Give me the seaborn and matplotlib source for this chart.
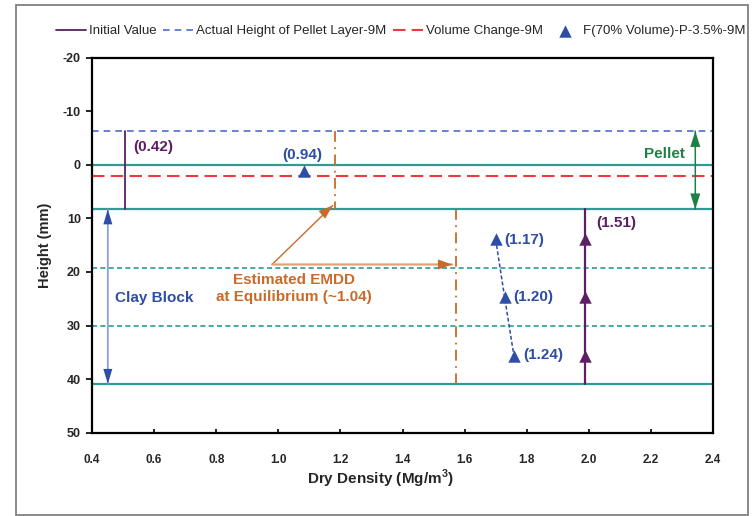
import matplotlib
matplotlib.use("Agg")
import matplotlib.pyplot as plt
import seaborn as sns
from matplotlib.patches import Rectangle

# ---------------- data ----------------
x_ticks = [0.4, 0.6, 0.8, 1.0, 1.2, 1.4, 1.6, 1.8, 2.0, 2.2, 2.4]
y_ticks = [-20, -10, 0, 10, 20, 30, 40, 50]

# horizontal reference levels (mm)
pellet_actual_top = -6.3      # Actual Height of Pellet Layer-9M
pellet_initial_top = 0.0
volume_change_level = 2.0     # Volume Change-9M
block_top = 8.3
block_level_1 = 19.2
block_level_2 = 30.0
block_bottom = 40.9

# initial values
initial_pellet_x = [0.505, 0.505]
initial_pellet_y = [-6.3, 8.3]
initial_block_x = [1.987, 1.987]
initial_block_y = [8.3, 40.9]
initial_block_pts_x = [1.987, 1.987, 1.987]
initial_block_pts_y = [13.9, 24.75, 35.7]

# F(70% Volume)-P-3.5%-9M
f70_x = [1.084, 1.700, 1.729, 1.759]
f70_y = [1.1, 13.9, 24.75, 35.7]
f70_block_x = [1.700, 1.729, 1.759]
f70_block_y = [13.9, 24.75, 35.7]

# estimated EMDD lines
emdd_pellet_x = [1.184, 1.184]
emdd_pellet_y = [-6.3, 8.3]
emdd_block_x = [1.573, 1.573]
emdd_block_y = [8.3, 40.9]

# value labels
label_texts = ["(0.42)", "(0.94)", "(1.17)", "(1.20)", "(1.24)", "(1.51)"]
label_x = [0.533, 1.076, 1.729, 1.756, 1.789, 2.023]
label_y = [-3.4, -1.9, 14.0, 24.6, 35.5, 10.8]

# ---------------- style ----------------
sns.set_theme(style="ticks")
plt.rcParams["font.family"] = ["Liberation Sans", "DejaVu Sans"]
plt.rcParams["axes.unicode_minus"] = False

PURPLE = "#5C1F66"
BLUE = "#2E4DA7"
BLUE_LIGHT = "#8CA0D8"
BLUE_DASH = "#4A6FC8"
TEAL = "#2A9D94"
RED = "#EE3A3A"
ORANGE = "#C96A2A"
ORANGE_LIGHT = "#E2A274"
GREEN = "#1E8045"

fig = plt.figure(figsize=(7.53, 5.16), dpi=100)
ax = fig.add_axes([92 / 753, 1 - 432.7 / 516, (713 - 92) / 753, (432.7 - 57.7) / 516])

# outer frame
fig.patches.append(Rectangle((16 / 753, 1.5 / 516), (748 - 16) / 753, (514 - 4) / 516,
                             transform=fig.transFigure, fill=False,
                             edgecolor="#808080", lw=1.3, zorder=0))

# horizontal levels
for lvl in [pellet_initial_top, block_top, block_bottom]:
    ax.axhline(lvl, color=TEAL, lw=1.6, zorder=2)
for lvl in [block_level_1, block_level_2]:
    ax.axhline(lvl, color=TEAL, lw=1.2, linestyle=(0, (3, 2)), zorder=2)
ax.axhline(pellet_actual_top, color=BLUE_DASH, lw=1.2, linestyle=(0, (4, 3)), zorder=2,
           label="Actual Height of Pellet Layer-9M")
ax.axhline(volume_change_level, color=RED, lw=1.5, linestyle=(0, (6, 3)), zorder=2,
           label="Volume Change-9M")

# initial value vertical lines
sns.lineplot(x=initial_pellet_x, y=initial_pellet_y, ax=ax, color=PURPLE, lw=1.3,
             sort=False, estimator=None, label="Initial Value", zorder=3)
sns.lineplot(x=initial_block_x, y=initial_block_y, ax=ax, color=PURPLE, lw=1.6,
             sort=False, estimator=None, zorder=3)
sns.scatterplot(x=initial_block_pts_x, y=initial_block_pts_y, ax=ax, color=PURPLE,
                marker="^", s=80, linewidth=0, zorder=4)

# EMDD dash-dot lines
for xs, ys in [(emdd_pellet_x, emdd_pellet_y), (emdd_block_x, emdd_block_y)]:
    sns.lineplot(x=xs, y=ys, ax=ax, color=ORANGE, lw=1.3, sort=False, estimator=None,
                 linestyle=(0, (6, 3, 1, 3)), zorder=3)

# F70 series
sns.lineplot(x=f70_block_x, y=f70_block_y, ax=ax, color=BLUE, lw=1.1, sort=False,
             estimator=None, linestyle=(0, (2.5, 1.5)), zorder=3)
sns.scatterplot(x=f70_x, y=f70_y, ax=ax, color=BLUE, marker="^", s=80, linewidth=0,
                zorder=4, label="F(70% Volume)-P-3.5%-9M")

# value labels
label_colors = [PURPLE, BLUE, BLUE, BLUE, BLUE, PURPLE]
label_ha = ["left", "center", "left", "left", "left", "left"]
for t, x, y, c, ha in zip(label_texts, label_x, label_y, label_colors, label_ha):
    ax.text(x, y, t, color=c, fontsize=11, fontweight="bold", ha=ha, va="center", zorder=5)


def arrow(p_from, p_to, line_color, head_color, lw, heads, hl=0.9, hw=0.28):
    """Draw a shaft in line_color and filled heads in head_color."""
    ax.annotate("", xy=p_to, xytext=p_from,
                arrowprops=dict(arrowstyle="-", color=line_color, lw=lw,
                                shrinkA=0, shrinkB=0), zorder=3)
    for tip, base in heads:
        ax.annotate("", xy=tip, xytext=base,
                    arrowprops=dict(arrowstyle=f"-|>,head_length={hl},head_width={hw}",
                                    color=head_color, lw=0.01, shrinkA=0, shrinkB=0),
                    zorder=3)


# Pellet arrow
ax.text(2.245, -2.0, "Pellet", color=GREEN, fontsize=11, fontweight="bold",
        ha="center", va="center")
arrow((2.343, pellet_actual_top), (2.343, block_top), GREEN, GREEN, 1.1,
      [((2.343, pellet_actual_top), (2.343, pellet_actual_top + 4)),
       ((2.343, block_top), (2.343, block_top - 4))], hl=0.95, hw=0.3)

# Clay block arrow
ax.text(0.6, 24.9, "Clay Block", color=BLUE, fontsize=11, fontweight="bold",
        ha="center", va="center")
arrow((0.451, block_top), (0.451, block_bottom), BLUE_LIGHT, BLUE, 1.3,
      [((0.451, block_top), (0.451, block_top + 4)),
       ((0.451, block_bottom), (0.451, block_bottom - 4))], hl=0.9, hw=0.27)

# EMDD annotation
ax.text(1.05, 23.1, "Estimated EMDD\nat Equilibrium (~1.04)", color=ORANGE,
        fontsize=11, fontweight="bold", ha="center", va="center", linespacing=1.3)
arrow((0.98, 18.6), (1.175, 7.6), ORANGE, ORANGE, 1.0,
      [((1.175, 7.6), (1.175 - 0.06, 7.6 + 3.0))], hl=0.85, hw=0.3)
arrow((0.98, 18.6), (1.56, 18.6), ORANGE_LIGHT, ORANGE, 1.6,
      [((1.56, 18.6), (1.50, 18.6))], hl=0.85, hw=0.3)

# axes
ax.set_xlim(x_ticks[0], x_ticks[-1])
ax.set_ylim(y_ticks[-1], y_ticks[0])
ax.set_xticks(x_ticks)
ax.set_xticklabels([f"{v:.1f}" for v in x_ticks])
ax.set_yticks(y_ticks)
ax.set_yticklabels([str(v) for v in y_ticks])
ax.tick_params(axis="x", direction="in", length=3, width=1.2, pad=15, labelsize=8.5,
               color="black")
ax.tick_params(axis="y", direction="out", length=4, width=1.2, pad=4, labelsize=9,
               color="black", left=True)
for lab in ax.get_xticklabels() + ax.get_yticklabels():
    lab.set_fontweight("bold")
ax.set_xlabel("Dry Density (Mg/m$^\\mathregular{3}$)", fontsize=11, fontweight="bold")
ax.set_ylabel("Height (mm)", fontsize=10.5, fontweight="bold")
ax.xaxis.set_label_coords(0.465, -0.094)
ax.yaxis.set_label_coords(-0.064, 0.5)
for sp in ax.spines.values():
    sp.set_visible(True)
    sp.set_color("black")
    sp.set_linewidth(1.6)
ax.grid(False)

# legend
handles, labels = ax.get_legend_handles_labels()
order = ["Initial Value", "Actual Height of Pellet Layer-9M", "Volume Change-9M",
         "F(70% Volume)-P-3.5%-9M"]
hmap = dict(zip(labels, handles))
if ax.get_legend() is not None:
    ax.get_legend().remove()
fig.legend([hmap[o] for o in order], order, loc="center left",
           bbox_to_anchor=(52 / 753, 1 - 31 / 516), ncol=4, frameon=False,
           fontsize=9.5, handlelength=2.3, handletextpad=0.2, columnspacing=0.5,
           borderaxespad=0, borderpad=0.3)

fig.savefig("out.png", dpi=100)
